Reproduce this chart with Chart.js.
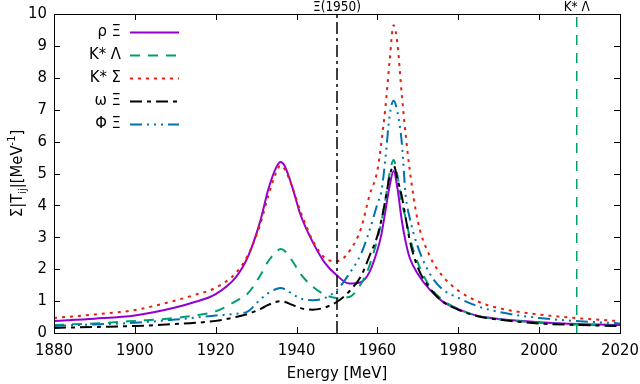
<!DOCTYPE html>
<html>
<head>
<meta charset="utf-8">
<script src="https://cdn.jsdelivr.net/npm/chart.js@4.4.1/dist/chart.umd.min.js"></script>
<style>
    html, body { margin: 0; padding: 0; background: #fff; }
    #wrap { width: 640px; height: 384px; }
</style>
</head>
<body>
<div id="wrap"><canvas id="chart" width="640" height="384"></canvas></div>
<script>
// energies (MeV) the curves were read at
const energies = [1880, 1890, 1900, 1910, 1915, 1920, 1925, 1928, 1931, 1933, 1935, 1936, 1937, 1939, 1941, 1944, 1947, 1950,
    1953, 1956, 1958, 1960, 1961, 1962, 1963, 1964, 1965, 1966, 1967, 1968, 1970, 1973, 1976, 1980, 1985, 1990, 2000, 2010, 2020];

const rhoXi = [0.38, 0.45, 0.55, 0.80, 0.98, 1.22, 1.75, 2.4, 3.5, 4.5, 5.2, 5.36, 5.25, 4.55, 3.7, 2.85, 2.2, 1.8,
    1.55, 1.6, 1.9, 2.6, 3.1, 3.85, 4.6, 5.08, 4.5, 3.55, 2.85, 2.35, 1.85, 1.35, 1.0, 0.75, 0.53, 0.44, 0.34, 0.28, 0.25];
const kstarLambda = [0.25, 0.3, 0.38, 0.47, 0.55, 0.68, 1.0, 1.25, 1.8, 2.25, 2.55, 2.63, 2.58, 2.25, 1.85, 1.45, 1.2, 1.1,
    1.13, 1.55, 2.1, 2.95, 3.5, 4.2, 5.0, 5.42, 4.9, 4.1, 3.6, 3.0, 2.2, 1.45, 1.05, 0.75, 0.53, 0.43, 0.32, 0.26, 0.22];
const kstarSigma = [0.47, 0.58, 0.72, 1.02, 1.2, 1.42, 1.88, 2.45, 3.4, 4.3, 5.05, 5.25, 5.15, 4.55, 3.8, 2.9, 2.35, 2.25,
    2.55, 3.3, 4.3, 5.1, 6.0, 7.1, 8.5, 9.65, 9.0, 7.5, 6.2, 5.1, 3.5, 2.4, 1.8, 1.33, 0.98, 0.78, 0.58, 0.46, 0.37];
const omegaXi = [0.16, 0.19, 0.22, 0.28, 0.32, 0.38, 0.5, 0.6, 0.75, 0.88, 0.98, 1.0, 0.98, 0.88, 0.78, 0.73, 0.8, 0.98,
    1.3, 1.8, 2.4, 3.05, 3.55, 4.2, 4.9, 5.25, 4.8, 4.3, 3.6, 2.9, 2.05, 1.4, 1.0, 0.73, 0.52, 0.42, 0.3, 0.25, 0.22];
const phiXi = [0.22, 0.27, 0.32, 0.42, 0.48, 0.55, 0.6, 0.68, 1.05, 1.25, 1.38, 1.41, 1.38, 1.22, 1.08, 1.03, 1.1, 1.35,
    1.85, 2.5, 3.2, 4.05, 4.45, 5.5, 6.8, 7.28, 6.9, 6.0, 4.3, 3.6, 2.7, 1.85, 1.38, 1.1, 0.83, 0.66, 0.47, 0.37, 0.3];

const seriesLabels = ['ρ Ξ', 'K* Λ', 'K* Σ', 'ω Ξ', 'Φ Ξ'];
const seriesValues = [rhoXi, kstarLambda, kstarSigma, omegaXi, phiXi];
const seriesColors = ['#9400d3', '#009e73', '#e51e10', '#000000', '#0072b2'];
const seriesDashes = [[], [10, 8], [3, 5], [12, 5, 4, 5], [12, 5, 2, 5, 2, 5, 2, 5]];

// thresholds marked by vertical lines
const markerLabels = ['Ξ(1950)', 'K* Λ'];
const markerEnergies = [1950, 2009.3];
const markerColors = ['#000000', '#009e73'];
const markerDashes = [[12, 4, 3, 4], [10, 8]];

const xTicks = [1880, 1900, 1920, 1940, 1960, 1980, 2000, 2020];
const yTicks = [0, 1, 2, 3, 4, 5, 6, 7, 8, 9, 10];

const FONT = "'DejaVu Sans Condensed', 'DejaVu Sans', sans-serif";

const datasets = seriesValues.map((vals, i) => ({
    label: seriesLabels[i],
    data: energies.map((e, j) => ({ x: e, y: vals[j] })),
    borderColor: seriesColors[i],
    borderDash: seriesDashes[i],
    borderWidth: 2,
    pointRadius: 0,
    fill: false,
    cubicInterpolationMode: 'monotone',
    order: 10 - i
}));

markerEnergies.forEach((e, i) => {
    datasets.push({
        label: markerLabels[i],
        data: [{ x: e, y: 0 }, { x: e, y: 10 }],
        borderColor: markerColors[i],
        borderDash: markerDashes[i],
        borderWidth: 1.5,
        pointRadius: 0,
        fill: false,
        order: 0
    });
});

// frame, inward ticks, legend and the extra labels
const decorations = {
    id: 'decorations',
    afterDatasetsDraw(chart) {
        const ctx = chart.ctx;
        const area = chart.chartArea;
        const xs = chart.scales.x;
        const ys = chart.scales.y;
        ctx.save();
        ctx.strokeStyle = '#000';
        ctx.lineWidth = 1;
        ctx.setLineDash([]);
        ctx.strokeRect(area.left + 0.5, area.top + 0.5, area.right - area.left, area.bottom - area.top);

        ctx.beginPath();
        xTicks.forEach(t => {
            const px = Math.round(xs.getPixelForValue(t)) + 0.5;
            ctx.moveTo(px, area.bottom);
            ctx.lineTo(px, area.bottom - 6);
            ctx.moveTo(px, area.top);
            ctx.lineTo(px, area.top + 6);
        });
        yTicks.forEach(t => {
            const py = Math.round(ys.getPixelForValue(t)) + 0.5;
            ctx.moveTo(area.left, py);
            ctx.lineTo(area.left + 6, py);
            ctx.moveTo(area.right, py);
            ctx.lineTo(area.right - 6, py);
        });
        ctx.stroke();

        // legend
        ctx.font = '16.5px ' + FONT;
        ctx.textAlign = 'right';
        ctx.textBaseline = 'middle';
        seriesLabels.forEach((lab, i) => {
            const y = 32 + i * 23;
            ctx.fillStyle = '#000';
            ctx.fillText(lab, 121, y);
            ctx.beginPath();
            ctx.strokeStyle = seriesColors[i];
            ctx.lineWidth = 2;
            ctx.setLineDash(seriesDashes[i]);
            ctx.moveTo(130, y + 0.5);
            ctx.lineTo(179, y + 0.5);
            ctx.stroke();
        });
        ctx.setLineDash([]);

        // marker labels above the frame
        ctx.font = '13.5px ' + FONT;
        ctx.textAlign = 'center';
        ctx.textBaseline = 'alphabetic';
        ctx.fillStyle = '#000';
        markerEnergies.forEach((e, i) => {
            ctx.fillText(markerLabels[i], xs.getPixelForValue(e), 11);
        });

        // x title
        ctx.font = '16.5px ' + FONT;
        ctx.fillText('Energy [MeV]', (area.left + area.right) / 2, 378);

        // y title with sub/superscripts
        const big = '16.5px ' + FONT;
        const small = '11px ' + FONT;
        const parts = [
            { t: 'Σ|T', f: big, dy: 0 },
            { t: 'ij', f: small, dy: 4 },
            { t: '|[MeV', f: big, dy: 0 },
            { t: '-1', f: small, dy: -7 },
            { t: ']', f: big, dy: 0 }
        ];
        let total = 0;
        parts.forEach(p => { ctx.font = p.f; p.w = ctx.measureText(p.t).width; total += p.w; });
        ctx.translate(22, (area.top + area.bottom) / 2);
        ctx.rotate(-Math.PI / 2);
        ctx.textAlign = 'left';
        let cx = -total / 2;
        parts.forEach(p => {
            ctx.font = p.f;
            ctx.fillText(p.t, cx, p.dy);
            cx += p.w;
        });
        ctx.restore();
    }
};

new Chart(document.getElementById('chart').getContext('2d'), {
    type: 'line',
    data: { datasets: datasets },
    options: {
        responsive: false,
        animation: false,
        layout: { padding: { top: 14, right: 20, left: 0, bottom: 0 } },
        plugins: { legend: { display: false }, tooltip: { enabled: false } },
        scales: {
            x: {
                type: 'linear',
                min: 1880,
                max: 2020,
                afterBuildTicks: axis => { axis.ticks = xTicks.map(v => ({ value: v })); },
                afterFit: axis => {
                    axis.height = 51;
                    axis.paddingLeft = 0;
                    axis.paddingRight = 0;
                },
                grid: { display: false, drawTicks: false },
                border: { display: false },
                ticks: { color: '#000', font: { family: FONT, size: 16.5 }, padding: 8, maxRotation: 0,
                    callback: v => String(v) }
            },
            y: {
                type: 'linear',
                min: 0,
                max: 10,
                afterBuildTicks: axis => { axis.ticks = yTicks.map(v => ({ value: v })); },
                afterFit: axis => {
                    axis.width = 54;
                    axis.paddingTop = 0;
                    axis.paddingBottom = 0;
                },
                grid: { display: false, drawTicks: false },
                border: { display: false },
                ticks: { color: '#000', font: { family: FONT, size: 16.5 }, padding: 7 }
            }
        }
    },
    plugins: [decorations]
});
</script>
</body>
</html>
